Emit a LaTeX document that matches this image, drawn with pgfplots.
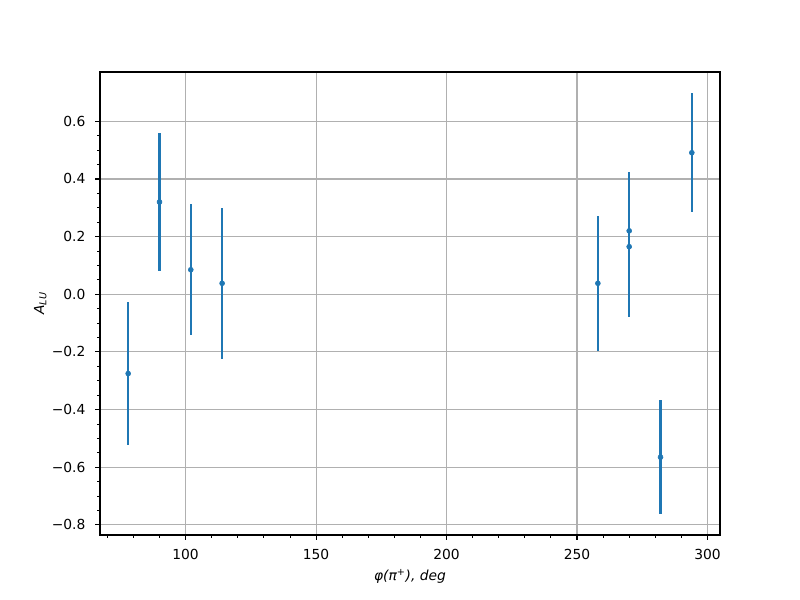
\documentclass[border=0pt]{standalone}
\usepackage{fontspec}
\setmainfont{DejaVu Sans}
\usepackage{pgfplots}
\pgfplotsset{compat=1.18}
\definecolor{mplblue}{HTML}{1F77B4}
\definecolor{gridgray}{HTML}{B0B0B0}
\begin{document}
\fontsize{10pt}{12pt}\selectfont
\begin{tikzpicture}
\begin{axis}[
  name=ax,
  scale only axis,
  width=6.2in, height=4.63in,
  xmin=67.2, xmax=304.8,
  ymin=-0.835, ymax=0.771,
  axis line style={line width=0.8pt},
  xtick={100,150,200,250,300},
  minor xtick={70,80,90,110,120,130,140,160,170,180,190,210,220,230,240,260,270,280,290},
  ytick={-0.8,-0.6,-0.4,-0.2,0,0.2,0.4,0.6},
  yticklabels={−0.8,−0.6,−0.4,−0.2,0.0,0.2,0.4,0.6},
  minor y tick num=3,
  xtick pos=left, ytick pos=left,
  tick align=outside,
  major tick length=3.5pt, minor tick length=2pt,
  every tick/.style={black, line width=0.8pt},
  minor tick style={black, line width=0.6pt},
  grid=major,
  major grid style={gridgray, line width=0.8pt},
  /pgf/number format/assume math mode=true,
  xticklabel style={font=\fontsize{10pt}{12pt}\selectfont, yshift=-3.5pt},
  yticklabel style={font=\fontsize{10pt}{12pt}\selectfont, xshift=-3.5pt},
  xlabel={\textit{φ(π\textsuperscript{+}), deg}},
  ylabel={\textit{A}\textsubscript{\textit{LU}}},
  label style={font=\fontsize{10pt}{12pt}\selectfont},
  ylabel style={yshift=-3pt},
]
\addplot[only marks, mark=*, mark size=1.8pt, color=mplblue,
  error bars/.cd, y dir=both, y explicit,
  error bar style={line width=1.5pt, mplblue}, error mark=none]
  table[x=x, y=y, y error=e] {
x y e
78 -0.275 0.248
90 0.320 0.241
102 0.085 0.227
114 0.038 0.261
258 0.038 0.235
270 0.220 0.205
270 0.165 0.245
282 -0.565 0.197
294 0.491 0.207
};
\end{axis}
\path (ax.south west) ++(-1in,-0.65in) rectangle ([shift={(0.8in,0.72in)}]ax.north east);
\end{tikzpicture}
\end{document}
